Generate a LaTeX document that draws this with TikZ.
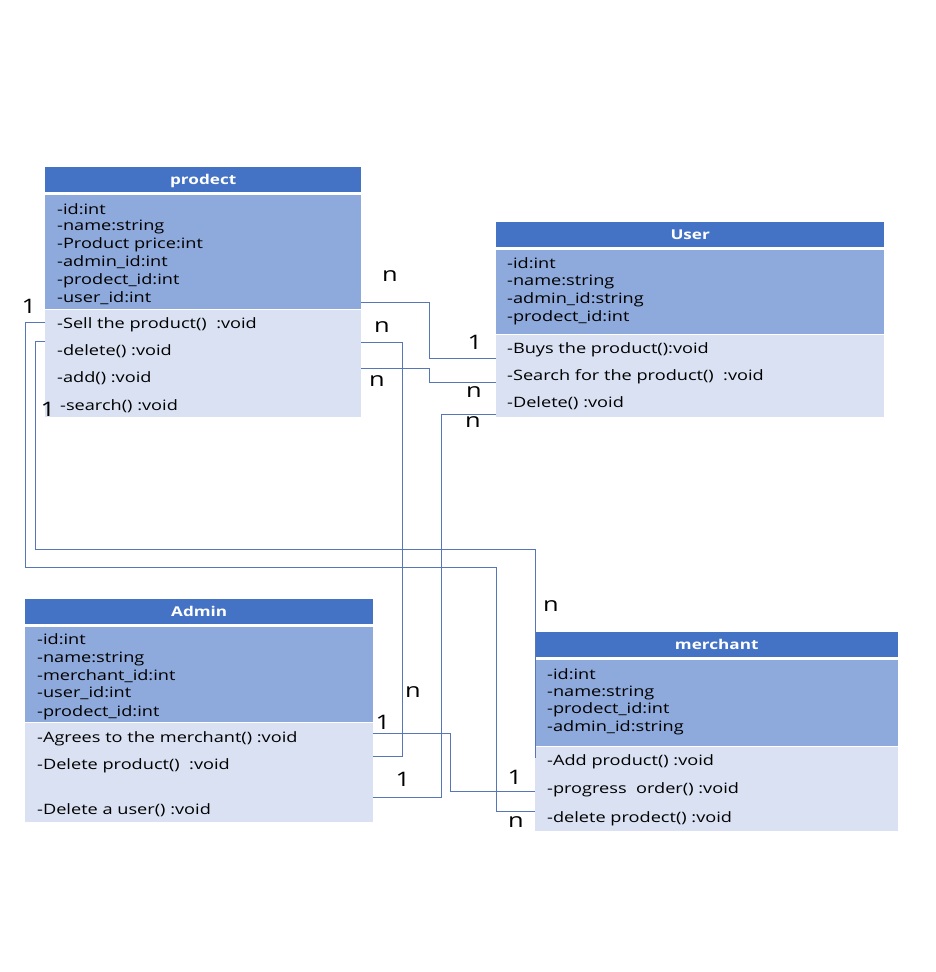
\documentclass[tikz,border=0pt]{standalone}
\usepackage{fontspec}
\setmainfont{Open Sans}[FakeStretch=1.27]
\definecolor{hdrc}{HTML}{4472C4}
\definecolor{attrc}{HTML}{8EA9DB}
\definecolor{methc}{HTML}{D9E1F2}
\definecolor{linec}{HTML}{5676B8}
\tikzset{
  hdr/.style={fill=hdrc, text=white, anchor=north west, inner sep=0, minimum height=25, text height=10, text depth=0, font=\bfseries\fontsize{13.5}{15}\selectfont},
  attrbox/.style={fill=attrc, anchor=north west, inner sep=0},
  methbox/.style={fill=methc, anchor=north west, inner sep=0},
  txt/.style={anchor=west, inner sep=0, yshift=-1.5pt, font=\fontsize{14.3}{17}\selectfont},
  lbl/.style={inner sep=0, font=\fontsize{20}{23}\selectfont},
  conn/.style={draw=linec, line width=1pt}
}
\begin{document}
\begin{tikzpicture}[x=1pt,y=-1pt]
\useasboundingbox[fill=white] (0,0) rectangle (935,972);

% ---------- prodect ----------
\node[hdr, minimum width=316] (pH) at (45,167) {prodect};
\node[attrbox, minimum width=316, minimum height=114] (pA) at (45,195) {};
\node[methbox, minimum width=316, minimum height=107] (pM) at (45,310) {};
\node[txt] (pA1) at (57,208) {-id:int};
\node[txt] (pA2) at (57,225) {-name:string};
\node[txt] (pA3) at (57,243) {-Product price:int};
\node[txt] (pA4) at (57,261) {-admin\_id:int};
\node[txt] (pA5) at (57,279) {-prodect\_id:int};
\node[txt] (pA6) at (57,297) {-user\_id:int};
\node[txt] (pM1) at (57,323) {-Sell the product()\ \ :void};
\node[txt] (pM2) at (57,350) {-delete() :void};
\node[txt] (pM3) at (57,377) {-add() :void};
\node[txt] (pM4) at (60,405) {-search() :void};

% ---------- User ----------
\node[hdr, minimum width=388] (uH) at (496,222) {User};
\node[attrbox, minimum width=388, minimum height=84] (uA) at (496,250) {};
\node[methbox, minimum width=388, minimum height=82] (uM) at (496,335) {};
\node[txt] (uA1) at (507,262) {-id:int};
\node[txt] (uA2) at (507,280) {-name:string};
\node[txt] (uA3) at (507,298) {-admin\_id:string};
\node[txt] (uA4) at (507,316) {-prodect\_id:int};
\node[txt] (uM1) at (507,348) {-Buys the product():void};
\node[txt] (uM2) at (507,375) {-Search for the product()\ \ :void};
\node[txt] (uM3) at (507,402) {-Delete() :void};

% ---------- Admin ----------
\node[hdr, minimum width=348] (aH) at (25,599) {Admin};
\node[attrbox, minimum width=348, minimum height=95] (aA) at (25,627) {};
\node[methbox, minimum width=348, minimum height=99] (aM) at (25,723) {};
\node[txt] (aA1) at (37,638) {-id:int};
\node[txt] (aA2) at (37,657) {-name:string};
\node[txt] (aA3) at (37,675) {-merchant\_id:int};
\node[txt] (aA4) at (37,692) {-user\_id:int};
\node[txt] (aA5) at (37,711) {-prodect\_id:int};
\node[txt] (aM1) at (37,737) {-Agrees to the merchant() :void};
\node[txt] (aM2) at (37,764) {-Delete product()\ \ :void};
\node[txt] (aM3) at (37,809) {-Delete a user() :void};

% ---------- merchant ----------
\node[hdr, minimum width=363] (mH) at (535,632) {merchant};
\node[attrbox, minimum width=363, minimum height=86] (mA) at (535,660) {};
\node[methbox, minimum width=363, minimum height=84] (mM) at (535,747) {};
\node[txt] (mA1) at (547,673) {-id:int};
\node[txt] (mA2) at (547,691) {-name:string};
\node[txt] (mA3) at (547,708) {-prodect\_id:int};
\node[txt] (mA4) at (547,726) {-admin\_id:string};
\node[txt] (mM1) at (547,760) {-Add product() :void};
\node[txt] (mM2) at (547,788) {-progress\ \ order() :void};
\node[txt] (mM3) at (547,817) {-delete prodect() :void};

% ---------- connectors ----------
\draw[conn] (pA.east |- 0,302) -| (429,358) -- (uM.west |- 0,358);
\draw[conn] (pM.east |- 0,342) -| (402,756) -- (aM.east |- 0,756);
\draw[conn] (pM.east |- 0,368) -| (429,382) -- (uM.west |- 0,382);
\draw[conn] (uM.west |- 0,414) -| (441,797) -- (aM.east |- 0,797);
\draw[conn] (pM.west |- 0,322) -| (25,567) -| (496,811) -- (mM.west |- 0,811);
\draw[conn] (pM.west |- 0,341) -| (35,549) -| (mM.west |- 0,758);
\draw[conn] (aM.east |- 0,733) -| (450,791) -- (mM.west |- 0,791);

% ---------- multiplicities ----------
\node[lbl] (l1) at (29,306) {1};
\node[lbl] (l2) at (48,409) {1};
\node[lbl] (l3) at (390,276) {n};
\node[lbl] (l4) at (382,327) {n};
\node[lbl] (l5) at (377,381) {n};
\node[lbl] (l6) at (475,342) {1};
\node[lbl] (l7) at (474,392) {n};
\node[lbl] (l8) at (473,422) {n};
\node[lbl] (l9) at (551,606) {n};
\node[lbl] (l10) at (413,692) {n};
\node[lbl] (l11) at (383,722) {1};
\node[lbl] (l12) at (403,779) {1};
\node[lbl] (l13) at (515,777) {1};
\node[lbl] (l14) at (516,822) {n};
\end{tikzpicture}
\end{document}
